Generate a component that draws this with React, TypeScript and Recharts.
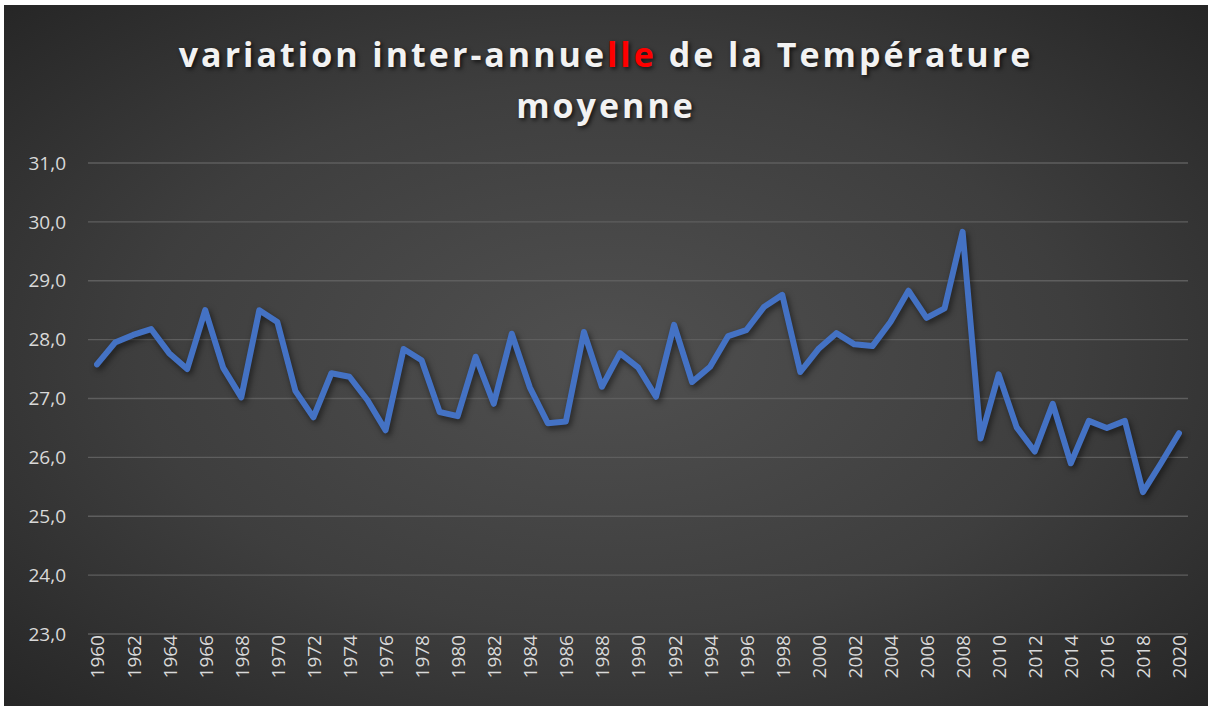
import React from 'react';
import { LineChart, Line, XAxis, YAxis, CartesianGrid } from 'recharts';

const years = [
  1960, 1961, 1962, 1963, 1964, 1965, 1966, 1967, 1968, 1969,
  1970, 1971, 1972, 1973, 1974, 1975, 1976, 1977, 1978, 1979,
  1980, 1981, 1982, 1983, 1984, 1985, 1986, 1987, 1988, 1989,
  1990, 1991, 1992, 1993, 1994, 1995, 1996, 1997, 1998, 1999,
  2000, 2001, 2002, 2003, 2004, 2005, 2006, 2007, 2008, 2009,
  2010, 2011, 2012, 2013, 2014, 2015, 2016, 2017, 2018, 2019, 2020,
];

const temperatures = [
  27.58, 27.95, 28.08, 28.18, 27.77, 27.5, 28.5, 27.52, 27.02, 28.5,
  28.3, 27.13, 26.68, 27.43, 27.37, 26.97, 26.46, 27.84, 27.65, 26.77,
  26.7, 27.71, 26.91, 28.1, 27.19, 26.58, 26.61, 28.13, 27.2, 27.77,
  27.53, 27.03, 28.25, 27.28, 27.54, 28.06, 28.16, 28.56, 28.76, 27.45,
  27.84, 28.11, 27.92, 27.89, 28.3, 28.83, 28.37, 28.53, 29.83, 26.32,
  27.41, 26.51, 26.1, 26.91, 25.9, 26.62, 26.5, 26.62, 25.41, 25.9, 26.41,
];

const yTicks = [23, 24, 25, 26, 27, 28, 29, 30, 31];

const data = years.map((y, i) => ({ year: String(y), temp: temperatures[i] }));

const fmt = (v: number) => v.toFixed(1).replace('.', ',');

export default function App() {
  return (
    <div
      style={{
        position: 'absolute',
        left: 4,
        top: 5,
        width: 1204,
        height: 701,
        background: 'radial-gradient(ellipse at 50% 50%, #505050 0%, #3e3e3e 55%, #262626 100%)',
        fontFamily: '"Open Sans", sans-serif',
      }}
    >
      <style>{`.temp-line .recharts-line-curve { filter: drop-shadow(2px 3px 3px rgba(0,0,0,0.55)); }`}</style>
      <div
        style={{
          position: 'absolute',
          top: 24,
          left: 0,
          width: '100%',
          textAlign: 'center',
          color: '#f2f2f2',
          fontSize: 34,
          fontWeight: 700,
          letterSpacing: 3,
          lineHeight: '51px',
          textShadow: '2px 2px 4px rgba(0,0,0,0.7)',
        }}
      >
        variation inter-annue<span style={{ color: '#ff0000' }}>lle</span> de la Température
        <br />
        moyenne
      </div>
      <LineChart
        width={1204}
        height={701}
        data={data}
        margin={{ top: 158, right: 20, bottom: 2, left: 0 }}
      >
        <CartesianGrid vertical={false} stroke="#5e5e5e" strokeWidth={1.3} />
        <XAxis
          dataKey="year"
          interval={1}
          angle={-90}
          textAnchor="end"
          height={70}
          padding={{ left: 9, right: 9 }}
          tickLine={false}
          axisLine={false}
          tickSize={0}
          tickMargin={8}
          dy={-7}
          dx={-6}
          tick={{ fill: '#d9d9d9', fontSize: 19 }}
        />
        <YAxis
          domain={[23, 31]}
          ticks={yTicks}
          tickFormatter={fmt}
          width={84}
          tickLine={false}
          axisLine={false}
          tickSize={0}
          tickMargin={22}
          tick={{ fill: '#d9d9d9', fontSize: 19 }}
        />
        <Line
          className="temp-line"
          type="linear"
          dataKey="temp"
          stroke="#4472c4"
          strokeWidth={6}
          strokeLinejoin="round"
          strokeLinecap="round"
          dot={false}
          isAnimationActive={false}
        />
      </LineChart>
    </div>
  );
}
